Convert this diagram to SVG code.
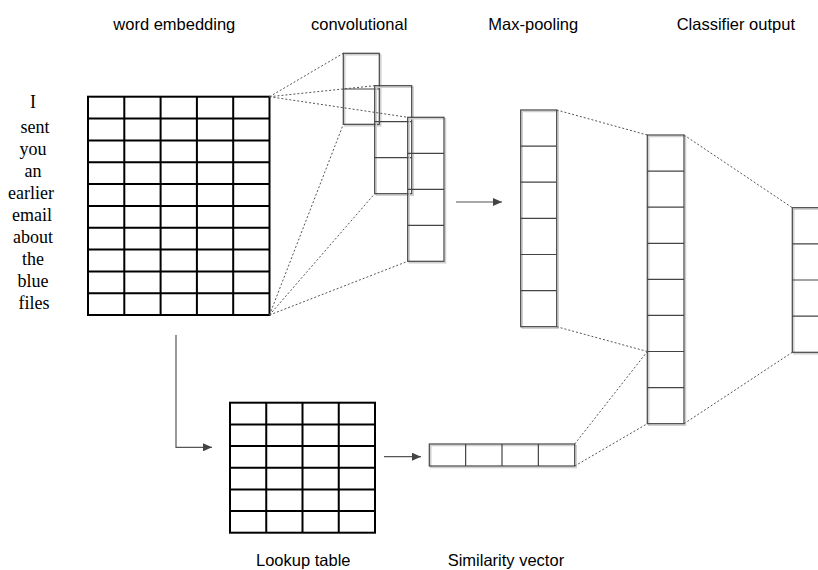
<svg xmlns="http://www.w3.org/2000/svg" width="818" height="570" viewBox="0 0 818 570">
<style>
.lbl{font-family:"Liberation Sans",Arial,sans-serif;font-size:16.5px;fill:#000}
.word{font-family:"Liberation Serif","Times New Roman",serif;font-size:18px;fill:#000;text-anchor:middle}
.grid{fill:none;stroke:#000;stroke-width:2}
.cell{fill:none;stroke:#444;stroke-width:1.2}
.shadow{fill:none;stroke:#cfcfcf;stroke-width:1.5}
.dot{fill:none;stroke:#555;stroke-width:1;stroke-dasharray:2 2}
.arr{fill:none;stroke:#555;stroke-width:1.2}
</style>
<defs>
<marker id="ah" markerUnits="userSpaceOnUse" markerWidth="9" markerHeight="8" refX="9" refY="4" orient="auto">
<path d="M0,0 L9,4 L0,8 z" fill="#444"/>
</marker>
</defs>

<g id="labels">
<text class="lbl" x="113.3" y="30">word embedding</text>
<text class="lbl" x="311" y="30">convolutional</text>
<text class="lbl" x="488.3" y="30">Max-pooling</text>
<text class="lbl" x="676.7" y="30">Classifier output</text>
<text class="lbl" x="256" y="566">Lookup table</text>
<text class="lbl" x="447.7" y="566">Similarity vector</text>
</g>

<g id="sentence">
<text class="word" x="33" y="108">I</text>
<text class="word" x="35" y="133.3">sent</text>
<text class="word" x="33" y="155.2">you</text>
<text class="word" x="33" y="177.1">an</text>
<text class="word" x="31" y="199">earlier</text>
<text class="word" x="32" y="220.9">email</text>
<text class="word" x="33" y="242.8">about</text>
<text class="word" x="33" y="264.7">the</text>
<text class="word" x="33" y="286.6">blue</text>
<text class="word" x="34" y="308.5">files</text>
</g>

<g id="word-embedding">
<rect class="grid" x="88" y="96.7" width="181.5" height="218.3"/>
<path class="grid" d="M124.3,96.7V315M160.6,96.7V315M196.9,96.7V315M233.2,96.7V315
M88,118.5H269.5M88,140.4H269.5M88,162.2H269.5M88,184H269.5M88,205.9H269.5M88,227.7H269.5M88,249.5H269.5M88,271.4H269.5M88,293.2H269.5"/>
</g>

<g id="conv1">
<rect class="shadow" x="344.8" y="54.8" width="36" height="71"/>
<rect class="cell" x="343.3" y="53.3" width="36" height="71"/>
<path class="cell" d="M343.3,89H379.3"/>
</g>
<g id="conv2">
<rect class="shadow" x="376.2" y="87.2" width="37" height="108"/>
<rect class="cell" x="374.7" y="85.7" width="37" height="108"/>
<path class="cell" d="M374.7,121.7H411.7M374.7,157.7H411.7"/>
</g>
<g id="conv3">
<rect class="shadow" x="409.2" y="118.8" width="36.3" height="144"/>
<rect class="cell" x="407.7" y="117.3" width="36.3" height="144"/>
<path class="cell" d="M407.7,153.3H444M407.7,189.3H444M407.7,225.3H444"/>
</g>

<g id="max-pooling">
<rect class="shadow" x="522.2" y="111.5" width="36" height="216.7"/>
<rect class="cell" x="520.7" y="110" width="36" height="216.7"/>
<path class="cell" d="M520.7,146.1H556.7M520.7,182.2H556.7M520.7,218.3H556.7M520.7,254.5H556.7M520.7,290.6H556.7"/>
</g>

<g id="hidden">
<rect class="shadow" x="648.8" y="136.5" width="36.7" height="288.7"/>
<rect class="cell" x="647.3" y="135" width="36.7" height="288.7"/>
<path class="cell" d="M647.3,171.1H684M647.3,207.2H684M647.3,243.3H684M647.3,279.4H684M647.3,315.4H684M647.3,351.5H684M647.3,387.6H684"/>
</g>

<g id="classifier-output">
<rect class="shadow" x="793.8" y="209.2" width="36" height="144.6"/>
<rect class="cell" x="792.3" y="207.7" width="36" height="144.6"/>
<path class="cell" d="M792.3,243.9H828.3M792.3,280H828.3M792.3,316.1H828.3"/>
</g>

<g id="lookup-table">
<rect class="grid" x="230" y="402.7" width="145" height="130"/>
<path class="grid" d="M266.25,402.7V532.7M302.5,402.7V532.7M338.75,402.7V532.7
M230,424.4H375M230,446H375M230,467.7H375M230,489.4H375M230,511H375"/>
</g>

<g id="similarity-vector">
<rect class="shadow" x="430.8" y="445.5" width="145.4" height="22"/>
<rect class="cell" x="429.3" y="444" width="145.4" height="22"/>
<path class="cell" d="M465.65,444V466M502,444V466M538.35,444V466"/>
</g>

<g id="connectors">
<path class="dot" d="M269.5,96.7L343.3,53.3M269.5,96.7L374.7,85.7M269.5,96.7L407.7,117.3
M269.5,315L343.3,124.3M269.5,315L374.7,193.7M269.5,315L407.7,261.3
M556.7,110L647.3,135M556.7,326.7L647.3,351.5M574.7,444L647.3,351.5M574.7,466L647.3,423.7
M684,135L792.3,207.7M684,423.7L792.3,352.3"/>
<path class="arr" d="M456,202H502" marker-end="url(#ah)"/>
<path class="arr" d="M176,335V447.3H212" marker-end="url(#ah)"/>
<path class="arr" d="M384,456.7H421" marker-end="url(#ah)"/>
</g>
</svg>
